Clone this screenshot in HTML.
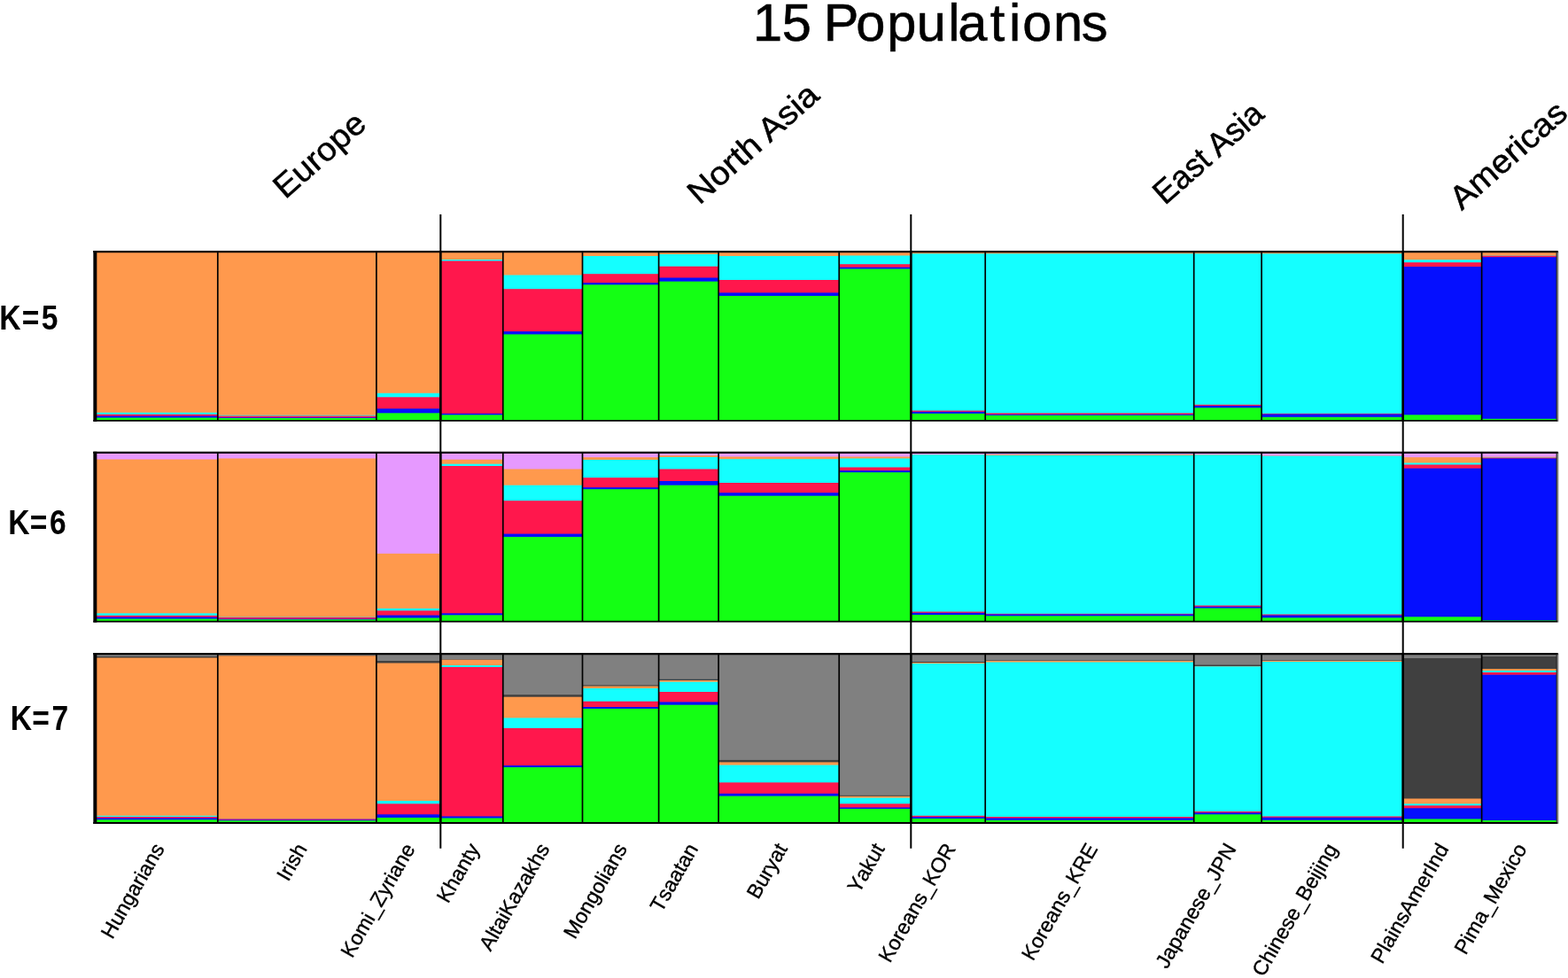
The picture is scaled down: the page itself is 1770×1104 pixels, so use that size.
<!DOCTYPE html>
<html lang="en"><head><meta charset="utf-8"><title>15 Populations</title>
<style>html,body{margin:0;padding:0;background:#fff;}body{width:1770px;height:1104px;overflow:hidden;}svg{display:block;}text{font-family:"Liberation Sans",sans-serif;fill:#000;}.pl text{font-kerning:none;font-feature-settings:"kern" 0,"liga" 0;}</style></head><body>
<svg width="1770" height="1104" viewBox="0 0 1770 1104">
<rect width="1770" height="1104" fill="#fff"/>
<g>
<rect x="107.35" y="284.1" width="138.45" height="190.8" fill="#FF994D"/>
<rect x="107.35" y="465.7" width="138.45" height="9.2" fill="#14FFFF"/>
<rect x="107.35" y="467.7" width="138.45" height="7.2" fill="#FF174C"/>
<rect x="107.35" y="469.5" width="138.45" height="5.4" fill="#050FFF"/>
<rect x="107.35" y="471.5" width="138.45" height="3.4" fill="#14FF14"/>
<rect x="245.8" y="284.1" width="179.1" height="190.8" fill="#FF994D"/>
<rect x="245.8" y="468.7" width="179.1" height="6.2" fill="#14FFFF"/>
<rect x="245.8" y="469.5" width="179.1" height="5.4" fill="#FF174C"/>
<rect x="245.8" y="471.2" width="179.1" height="3.7" fill="#050FFF"/>
<rect x="245.8" y="472" width="179.1" height="2.9" fill="#14FF14"/>
<rect x="424.9" y="284.1" width="72.4" height="190.8" fill="#FF994D"/>
<rect x="424.9" y="443.8" width="72.4" height="31.1" fill="#14FFFF"/>
<rect x="424.9" y="448.3" width="72.4" height="26.6" fill="#FF174C"/>
<rect x="424.9" y="461.3" width="72.4" height="13.6" fill="#050FFF"/>
<rect x="424.9" y="466.3" width="72.4" height="8.6" fill="#14FF14"/>
<rect x="497.3" y="284.1" width="70.5" height="190.8" fill="#FF994D"/>
<rect x="497.3" y="293" width="70.5" height="181.9" fill="#14FFFF"/>
<rect x="497.3" y="294.5" width="70.5" height="180.4" fill="#FF174C"/>
<rect x="497.3" y="466.8" width="70.5" height="8.1" fill="#050FFF"/>
<rect x="497.3" y="468.3" width="70.5" height="6.6" fill="#14FF14"/>
<rect x="567.8" y="284.1" width="89.7" height="190.8" fill="#FF994D"/>
<rect x="567.8" y="310.5" width="89.7" height="164.4" fill="#14FFFF"/>
<rect x="567.8" y="326.2" width="89.7" height="148.7" fill="#FF174C"/>
<rect x="567.8" y="374.1" width="89.7" height="100.8" fill="#050FFF"/>
<rect x="567.8" y="377.4" width="89.7" height="97.5" fill="#14FF14"/>
<rect x="657.5" y="284.1" width="86.1" height="190.8" fill="#FF994D"/>
<rect x="657.5" y="289" width="86.1" height="185.9" fill="#14FFFF"/>
<rect x="657.5" y="309.2" width="86.1" height="165.7" fill="#FF174C"/>
<rect x="657.5" y="319.2" width="86.1" height="155.7" fill="#050FFF"/>
<rect x="657.5" y="321.4" width="86.1" height="153.5" fill="#14FF14"/>
<rect x="743.6" y="284.1" width="67.5" height="190.8" fill="#FF994D"/>
<rect x="743.6" y="287" width="67.5" height="187.9" fill="#14FFFF"/>
<rect x="743.6" y="300.7" width="67.5" height="174.2" fill="#FF174C"/>
<rect x="743.6" y="313.5" width="67.5" height="161.4" fill="#050FFF"/>
<rect x="743.6" y="317.7" width="67.5" height="157.2" fill="#14FF14"/>
<rect x="811.1" y="284.1" width="136.1" height="190.8" fill="#FF994D"/>
<rect x="811.1" y="289" width="136.1" height="185.9" fill="#14FFFF"/>
<rect x="811.1" y="316" width="136.1" height="158.9" fill="#FF174C"/>
<rect x="811.1" y="330.4" width="136.1" height="144.5" fill="#050FFF"/>
<rect x="811.1" y="334" width="136.1" height="140.9" fill="#14FF14"/>
<rect x="947.2" y="284.1" width="81.1" height="190.8" fill="#FF994D"/>
<rect x="947.2" y="288.5" width="81.1" height="186.4" fill="#14FFFF"/>
<rect x="947.2" y="298.2" width="81.1" height="176.7" fill="#FF174C"/>
<rect x="947.2" y="301.7" width="81.1" height="173.2" fill="#050FFF"/>
<rect x="947.2" y="303.5" width="81.1" height="171.4" fill="#14FF14"/>
<rect x="1028.3" y="284.1" width="83.9" height="190.8" fill="#FF994D"/>
<rect x="1028.3" y="286.3" width="83.9" height="188.6" fill="#14FFFF"/>
<rect x="1028.3" y="463.5" width="83.9" height="11.4" fill="#FF174C"/>
<rect x="1028.3" y="464.8" width="83.9" height="10.1" fill="#050FFF"/>
<rect x="1028.3" y="466.8" width="83.9" height="8.1" fill="#14FF14"/>
<rect x="1112.2" y="284.1" width="235.5" height="190.8" fill="#FF994D"/>
<rect x="1112.2" y="286.3" width="235.5" height="188.6" fill="#14FFFF"/>
<rect x="1112.2" y="466.3" width="235.5" height="8.6" fill="#FF174C"/>
<rect x="1112.2" y="467.8" width="235.5" height="7.1" fill="#050FFF"/>
<rect x="1112.2" y="468.8" width="235.5" height="6.1" fill="#14FF14"/>
<rect x="1347.7" y="284.1" width="76.4" height="190.8" fill="#FF994D"/>
<rect x="1347.7" y="286.3" width="76.4" height="188.6" fill="#14FFFF"/>
<rect x="1347.7" y="456.8" width="76.4" height="18.1" fill="#FF174C"/>
<rect x="1347.7" y="458" width="76.4" height="16.9" fill="#050FFF"/>
<rect x="1347.7" y="460.3" width="76.4" height="14.6" fill="#14FF14"/>
<rect x="1424.1" y="284.1" width="159.6" height="190.8" fill="#FF994D"/>
<rect x="1424.1" y="286.3" width="159.6" height="188.6" fill="#14FFFF"/>
<rect x="1424.1" y="466.8" width="159.6" height="8.1" fill="#FF174C"/>
<rect x="1424.1" y="467.5" width="159.6" height="7.4" fill="#050FFF"/>
<rect x="1424.1" y="470.8" width="159.6" height="4.1" fill="#14FF14"/>
<rect x="1583.7" y="284.1" width="88.9" height="190.8" fill="#FF994D"/>
<rect x="1583.7" y="293.2" width="88.9" height="181.7" fill="#14FFFF"/>
<rect x="1583.7" y="296.2" width="88.9" height="178.7" fill="#FF174C"/>
<rect x="1583.7" y="301" width="88.9" height="173.9" fill="#050FFF"/>
<rect x="1583.7" y="468.3" width="88.9" height="6.6" fill="#14FF14"/>
<rect x="1672.6" y="284.1" width="84.4" height="190.8" fill="#FF994D"/>
<rect x="1672.6" y="288.5" width="84.4" height="186.4" fill="#14FFFF"/>
<rect x="1672.6" y="288.7" width="84.4" height="186.2" fill="#FF174C"/>
<rect x="1672.6" y="290.2" width="84.4" height="184.7" fill="#050FFF"/>
<rect x="1672.6" y="472.8" width="84.4" height="2.1" fill="#14FF14"/>
</g>
<g stroke="#000" fill="none">
<line x1="245.8" y1="284.1" x2="245.8" y2="474.9" stroke-width="1.7"/>
<line x1="424.9" y1="284.1" x2="424.9" y2="474.9" stroke-width="1.7"/>
<line x1="497.3" y1="284.1" x2="497.3" y2="474.9" stroke-width="2.5"/>
<line x1="567.8" y1="284.1" x2="567.8" y2="474.9" stroke-width="1.7"/>
<line x1="657.5" y1="284.1" x2="657.5" y2="474.9" stroke-width="1.7"/>
<line x1="743.6" y1="284.1" x2="743.6" y2="474.9" stroke-width="1.7"/>
<line x1="811.1" y1="284.1" x2="811.1" y2="474.9" stroke-width="1.7"/>
<line x1="947.2" y1="284.1" x2="947.2" y2="474.9" stroke-width="1.7"/>
<line x1="1028.3" y1="284.1" x2="1028.3" y2="474.9" stroke-width="2.5"/>
<line x1="1112.2" y1="284.1" x2="1112.2" y2="474.9" stroke-width="1.7"/>
<line x1="1347.7" y1="284.1" x2="1347.7" y2="474.9" stroke-width="1.7"/>
<line x1="1424.1" y1="284.1" x2="1424.1" y2="474.9" stroke-width="1.7"/>
<line x1="1583.7" y1="284.1" x2="1583.7" y2="474.9" stroke-width="2.5"/>
<line x1="1672.6" y1="284.1" x2="1672.6" y2="474.9" stroke-width="1.7"/>
<line x1="1758.6" y1="283.5" x2="1758.6" y2="475.8" stroke-width="1.6" stroke="#8a8a8a"/>
<line x1="105.35" y1="284.1" x2="1758.6" y2="284.1" stroke-width="2.3"/>
<line x1="105.35" y1="474.9" x2="1758.2" y2="474.9" stroke-width="1.9"/>
<line x1="107.35" y1="283" x2="107.35" y2="475.8" stroke-width="4"/>
<line x1="1757.2" y1="284.1" x2="1757.2" y2="474.9" stroke-width="1.2" stroke="#1a1a1a"/>
</g>
<g>
<rect x="107.35" y="510.9" width="138.45" height="190.7" fill="#E699FF"/>
<rect x="107.35" y="518.5" width="138.45" height="183.1" fill="#FF994D"/>
<rect x="107.35" y="692.3" width="138.45" height="9.3" fill="#14FFFF"/>
<rect x="107.35" y="694.8" width="138.45" height="6.8" fill="#FF174C"/>
<rect x="107.35" y="696.5" width="138.45" height="5.1" fill="#050FFF"/>
<rect x="107.35" y="698.5" width="138.45" height="3.1" fill="#14FF14"/>
<rect x="245.8" y="510.9" width="179.1" height="190.7" fill="#E699FF"/>
<rect x="245.8" y="517.5" width="179.1" height="184.1" fill="#FF994D"/>
<rect x="245.8" y="696.5" width="179.1" height="5.1" fill="#14FFFF"/>
<rect x="245.8" y="696.8" width="179.1" height="4.8" fill="#FF174C"/>
<rect x="245.8" y="698.5" width="179.1" height="3.1" fill="#050FFF"/>
<rect x="245.8" y="699.3" width="179.1" height="2.3" fill="#14FF14"/>
<rect x="424.9" y="510.9" width="72.4" height="190.7" fill="#E699FF"/>
<rect x="424.9" y="624.9" width="72.4" height="76.7" fill="#FF994D"/>
<rect x="424.9" y="686.8" width="72.4" height="14.8" fill="#14FFFF"/>
<rect x="424.9" y="689.3" width="72.4" height="12.3" fill="#FF174C"/>
<rect x="424.9" y="694.5" width="72.4" height="7.1" fill="#050FFF"/>
<rect x="424.9" y="697.5" width="72.4" height="4.1" fill="#14FF14"/>
<rect x="497.3" y="510.9" width="70.5" height="190.7" fill="#E699FF"/>
<rect x="497.3" y="518.7" width="70.5" height="182.9" fill="#FF994D"/>
<rect x="497.3" y="523.7" width="70.5" height="177.9" fill="#14FFFF"/>
<rect x="497.3" y="526" width="70.5" height="175.6" fill="#FF174C"/>
<rect x="497.3" y="692.3" width="70.5" height="9.3" fill="#050FFF"/>
<rect x="497.3" y="694.3" width="70.5" height="7.3" fill="#14FF14"/>
<rect x="567.8" y="510.9" width="89.7" height="190.7" fill="#E699FF"/>
<rect x="567.8" y="529.5" width="89.7" height="172.1" fill="#FF994D"/>
<rect x="567.8" y="547.7" width="89.7" height="153.9" fill="#14FFFF"/>
<rect x="567.8" y="565.2" width="89.7" height="136.4" fill="#FF174C"/>
<rect x="567.8" y="602.6" width="89.7" height="99" fill="#050FFF"/>
<rect x="567.8" y="606.1" width="89.7" height="95.5" fill="#14FF14"/>
<rect x="657.5" y="510.9" width="86.1" height="190.7" fill="#E699FF"/>
<rect x="657.5" y="516.2" width="86.1" height="185.4" fill="#FF994D"/>
<rect x="657.5" y="519" width="86.1" height="182.6" fill="#14FFFF"/>
<rect x="657.5" y="539.2" width="86.1" height="162.4" fill="#FF174C"/>
<rect x="657.5" y="550.2" width="86.1" height="151.4" fill="#050FFF"/>
<rect x="657.5" y="552.2" width="86.1" height="149.4" fill="#14FF14"/>
<rect x="743.6" y="510.9" width="67.5" height="190.7" fill="#E699FF"/>
<rect x="743.6" y="514.2" width="67.5" height="187.4" fill="#FF994D"/>
<rect x="743.6" y="516" width="67.5" height="185.6" fill="#14FFFF"/>
<rect x="743.6" y="529.5" width="67.5" height="172.1" fill="#FF174C"/>
<rect x="743.6" y="543" width="67.5" height="158.6" fill="#050FFF"/>
<rect x="743.6" y="547.7" width="67.5" height="153.9" fill="#14FF14"/>
<rect x="811.1" y="510.9" width="136.1" height="190.7" fill="#E699FF"/>
<rect x="811.1" y="515.5" width="136.1" height="186.1" fill="#FF994D"/>
<rect x="811.1" y="518.2" width="136.1" height="183.4" fill="#14FFFF"/>
<rect x="811.1" y="545" width="136.1" height="156.6" fill="#FF174C"/>
<rect x="811.1" y="556.2" width="136.1" height="145.4" fill="#050FFF"/>
<rect x="811.1" y="559.7" width="136.1" height="141.9" fill="#14FF14"/>
<rect x="947.2" y="510.9" width="81.1" height="190.7" fill="#E699FF"/>
<rect x="947.2" y="515.5" width="81.1" height="186.1" fill="#FF994D"/>
<rect x="947.2" y="517.5" width="81.1" height="184.1" fill="#14FFFF"/>
<rect x="947.2" y="527.5" width="81.1" height="174.1" fill="#FF174C"/>
<rect x="947.2" y="531.2" width="81.1" height="170.4" fill="#050FFF"/>
<rect x="947.2" y="533.2" width="81.1" height="168.4" fill="#14FF14"/>
<rect x="1028.3" y="510.9" width="83.9" height="190.7" fill="#E699FF"/>
<rect x="1028.3" y="513" width="83.9" height="188.6" fill="#FF994D"/>
<rect x="1028.3" y="513.3" width="83.9" height="188.3" fill="#14FFFF"/>
<rect x="1028.3" y="690.5" width="83.9" height="11.1" fill="#FF174C"/>
<rect x="1028.3" y="691.8" width="83.9" height="9.8" fill="#050FFF"/>
<rect x="1028.3" y="694" width="83.9" height="7.6" fill="#14FF14"/>
<rect x="1112.2" y="510.9" width="235.5" height="190.7" fill="#E699FF"/>
<rect x="1112.2" y="513" width="235.5" height="188.6" fill="#FF994D"/>
<rect x="1112.2" y="514" width="235.5" height="187.6" fill="#14FFFF"/>
<rect x="1112.2" y="692.8" width="235.5" height="8.8" fill="#FF174C"/>
<rect x="1112.2" y="693.5" width="235.5" height="8.1" fill="#050FFF"/>
<rect x="1112.2" y="695.3" width="235.5" height="6.3" fill="#14FF14"/>
<rect x="1347.7" y="510.9" width="76.4" height="190.7" fill="#E699FF"/>
<rect x="1347.7" y="513" width="76.4" height="188.6" fill="#FF994D"/>
<rect x="1347.7" y="513.5" width="76.4" height="188.1" fill="#14FFFF"/>
<rect x="1347.7" y="683.5" width="76.4" height="18.1" fill="#FF174C"/>
<rect x="1347.7" y="684.8" width="76.4" height="16.8" fill="#050FFF"/>
<rect x="1347.7" y="686.5" width="76.4" height="15.1" fill="#14FF14"/>
<rect x="1424.1" y="510.9" width="159.6" height="190.7" fill="#E699FF"/>
<rect x="1424.1" y="514.5" width="159.6" height="187.1" fill="#FF994D"/>
<rect x="1424.1" y="514.7" width="159.6" height="186.9" fill="#14FFFF"/>
<rect x="1424.1" y="693.5" width="159.6" height="8.1" fill="#FF174C"/>
<rect x="1424.1" y="694.5" width="159.6" height="7.1" fill="#050FFF"/>
<rect x="1424.1" y="697.3" width="159.6" height="4.3" fill="#14FF14"/>
<rect x="1583.7" y="510.9" width="88.9" height="190.7" fill="#E699FF"/>
<rect x="1583.7" y="516.2" width="88.9" height="185.4" fill="#FF994D"/>
<rect x="1583.7" y="522.5" width="88.9" height="179.1" fill="#14FFFF"/>
<rect x="1583.7" y="524.5" width="88.9" height="177.1" fill="#FF174C"/>
<rect x="1583.7" y="528.7" width="88.9" height="172.9" fill="#050FFF"/>
<rect x="1583.7" y="696.3" width="88.9" height="5.3" fill="#14FF14"/>
<rect x="1672.6" y="510.9" width="84.4" height="190.7" fill="#E699FF"/>
<rect x="1672.6" y="515.7" width="84.4" height="185.9" fill="#FF994D"/>
<rect x="1672.6" y="516.5" width="84.4" height="185.1" fill="#14FFFF"/>
<rect x="1672.6" y="516.7" width="84.4" height="184.9" fill="#FF174C"/>
<rect x="1672.6" y="517.5" width="84.4" height="184.1" fill="#050FFF"/>
<rect x="1672.6" y="700.3" width="84.4" height="1.3" fill="#14FF14"/>
</g>
<g stroke="#000" fill="none">
<line x1="245.8" y1="510.9" x2="245.8" y2="701.6" stroke-width="1.7"/>
<line x1="424.9" y1="510.9" x2="424.9" y2="701.6" stroke-width="1.7"/>
<line x1="497.3" y1="510.9" x2="497.3" y2="701.6" stroke-width="2.5"/>
<line x1="567.8" y1="510.9" x2="567.8" y2="701.6" stroke-width="1.7"/>
<line x1="657.5" y1="510.9" x2="657.5" y2="701.6" stroke-width="1.7"/>
<line x1="743.6" y1="510.9" x2="743.6" y2="701.6" stroke-width="1.7"/>
<line x1="811.1" y1="510.9" x2="811.1" y2="701.6" stroke-width="1.7"/>
<line x1="947.2" y1="510.9" x2="947.2" y2="701.6" stroke-width="1.7"/>
<line x1="1028.3" y1="510.9" x2="1028.3" y2="701.6" stroke-width="2.5"/>
<line x1="1112.2" y1="510.9" x2="1112.2" y2="701.6" stroke-width="1.7"/>
<line x1="1347.7" y1="510.9" x2="1347.7" y2="701.6" stroke-width="1.7"/>
<line x1="1424.1" y1="510.9" x2="1424.1" y2="701.6" stroke-width="1.7"/>
<line x1="1583.7" y1="510.9" x2="1583.7" y2="701.6" stroke-width="2.5"/>
<line x1="1672.6" y1="510.9" x2="1672.6" y2="701.6" stroke-width="1.7"/>
<line x1="1758.6" y1="510.3" x2="1758.6" y2="702.5" stroke-width="1.6" stroke="#8a8a8a"/>
<line x1="105.35" y1="510.9" x2="1758.6" y2="510.9" stroke-width="2.3"/>
<line x1="105.35" y1="701.6" x2="1758.2" y2="701.6" stroke-width="1.9"/>
<line x1="107.35" y1="509.8" x2="107.35" y2="702.5" stroke-width="4"/>
<line x1="1757.2" y1="510.9" x2="1757.2" y2="701.6" stroke-width="1.2" stroke="#1a1a1a"/>
</g>
<g>
<rect x="107.35" y="738.1" width="138.45" height="190.9" fill="#808080"/>
<rect x="107.35" y="741" width="138.45" height="188" fill="#404040"/>
<rect x="107.35" y="742.5" width="138.45" height="186.5" fill="#FF994D"/>
<rect x="107.35" y="920.8" width="138.45" height="8.2" fill="#14FFFF"/>
<rect x="107.35" y="922" width="138.45" height="7" fill="#FF174C"/>
<rect x="107.35" y="923.5" width="138.45" height="5.5" fill="#050FFF"/>
<rect x="107.35" y="925.3" width="138.45" height="3.7" fill="#14FF14"/>
<rect x="245.8" y="738.1" width="179.1" height="190.9" fill="#808080"/>
<rect x="245.8" y="740" width="179.1" height="189" fill="#404040"/>
<rect x="245.8" y="740.3" width="179.1" height="188.7" fill="#FF994D"/>
<rect x="245.8" y="924" width="179.1" height="5" fill="#14FFFF"/>
<rect x="245.8" y="924.3" width="179.1" height="4.7" fill="#FF174C"/>
<rect x="245.8" y="925.5" width="179.1" height="3.5" fill="#050FFF"/>
<rect x="245.8" y="926.3" width="179.1" height="2.7" fill="#14FF14"/>
<rect x="424.9" y="738.1" width="72.4" height="190.9" fill="#808080"/>
<rect x="424.9" y="746" width="72.4" height="183" fill="#404040"/>
<rect x="424.9" y="748.5" width="72.4" height="180.5" fill="#FF994D"/>
<rect x="424.9" y="904" width="72.4" height="25" fill="#14FFFF"/>
<rect x="424.9" y="907.3" width="72.4" height="21.7" fill="#FF174C"/>
<rect x="424.9" y="919.3" width="72.4" height="9.7" fill="#050FFF"/>
<rect x="424.9" y="923" width="72.4" height="6" fill="#14FF14"/>
<rect x="497.3" y="738.1" width="70.5" height="190.9" fill="#808080"/>
<rect x="497.3" y="744.5" width="70.5" height="184.5" fill="#404040"/>
<rect x="497.3" y="744.7" width="70.5" height="184.3" fill="#FF994D"/>
<rect x="497.3" y="751" width="70.5" height="178" fill="#14FFFF"/>
<rect x="497.3" y="753" width="70.5" height="176" fill="#FF174C"/>
<rect x="497.3" y="921.5" width="70.5" height="7.5" fill="#050FFF"/>
<rect x="497.3" y="923.5" width="70.5" height="5.5" fill="#14FF14"/>
<rect x="567.8" y="738.1" width="89.7" height="190.9" fill="#808080"/>
<rect x="567.8" y="784.2" width="89.7" height="144.8" fill="#404040"/>
<rect x="567.8" y="786.7" width="89.7" height="142.3" fill="#FF994D"/>
<rect x="567.8" y="810.4" width="89.7" height="118.6" fill="#14FFFF"/>
<rect x="567.8" y="821.9" width="89.7" height="107.1" fill="#FF174C"/>
<rect x="567.8" y="864.1" width="89.7" height="64.9" fill="#050FFF"/>
<rect x="567.8" y="866.1" width="89.7" height="62.9" fill="#14FF14"/>
<rect x="657.5" y="738.1" width="86.1" height="190.9" fill="#808080"/>
<rect x="657.5" y="773.4" width="86.1" height="155.6" fill="#404040"/>
<rect x="657.5" y="774.5" width="86.1" height="154.5" fill="#FF994D"/>
<rect x="657.5" y="777" width="86.1" height="152" fill="#14FFFF"/>
<rect x="657.5" y="791.7" width="86.1" height="137.3" fill="#FF174C"/>
<rect x="657.5" y="798" width="86.1" height="131" fill="#050FFF"/>
<rect x="657.5" y="800" width="86.1" height="129" fill="#14FF14"/>
<rect x="743.6" y="738.1" width="67.5" height="190.9" fill="#808080"/>
<rect x="743.6" y="766.7" width="67.5" height="162.3" fill="#404040"/>
<rect x="743.6" y="768" width="67.5" height="161" fill="#FF994D"/>
<rect x="743.6" y="769.7" width="67.5" height="159.3" fill="#14FFFF"/>
<rect x="743.6" y="781" width="67.5" height="148" fill="#FF174C"/>
<rect x="743.6" y="792.4" width="67.5" height="136.6" fill="#050FFF"/>
<rect x="743.6" y="795.7" width="67.5" height="133.3" fill="#14FF14"/>
<rect x="811.1" y="738.1" width="136.1" height="190.9" fill="#808080"/>
<rect x="811.1" y="857.9" width="136.1" height="71.1" fill="#404040"/>
<rect x="811.1" y="860.4" width="136.1" height="68.6" fill="#FF994D"/>
<rect x="811.1" y="863.6" width="136.1" height="65.4" fill="#14FFFF"/>
<rect x="811.1" y="883.3" width="136.1" height="45.7" fill="#FF174C"/>
<rect x="811.1" y="895.8" width="136.1" height="33.2" fill="#050FFF"/>
<rect x="811.1" y="898.6" width="136.1" height="30.4" fill="#14FF14"/>
<rect x="947.2" y="738.1" width="81.1" height="190.9" fill="#808080"/>
<rect x="947.2" y="897.8" width="81.1" height="31.2" fill="#404040"/>
<rect x="947.2" y="898.8" width="81.1" height="30.2" fill="#FF994D"/>
<rect x="947.2" y="900.6" width="81.1" height="28.4" fill="#14FFFF"/>
<rect x="947.2" y="907.3" width="81.1" height="21.7" fill="#FF174C"/>
<rect x="947.2" y="911.5" width="81.1" height="17.5" fill="#050FFF"/>
<rect x="947.2" y="913" width="81.1" height="16" fill="#14FF14"/>
<rect x="1028.3" y="738.1" width="83.9" height="190.9" fill="#808080"/>
<rect x="1028.3" y="747" width="83.9" height="182" fill="#404040"/>
<rect x="1028.3" y="748" width="83.9" height="181" fill="#FF994D"/>
<rect x="1028.3" y="749" width="83.9" height="180" fill="#14FFFF"/>
<rect x="1028.3" y="920.8" width="83.9" height="8.2" fill="#FF174C"/>
<rect x="1028.3" y="922.3" width="83.9" height="6.7" fill="#050FFF"/>
<rect x="1028.3" y="924" width="83.9" height="5" fill="#14FF14"/>
<rect x="1112.2" y="738.1" width="235.5" height="190.9" fill="#808080"/>
<rect x="1112.2" y="745.5" width="235.5" height="183.5" fill="#404040"/>
<rect x="1112.2" y="746" width="235.5" height="183" fill="#FF994D"/>
<rect x="1112.2" y="747.5" width="235.5" height="181.5" fill="#14FFFF"/>
<rect x="1112.2" y="922" width="235.5" height="7" fill="#FF174C"/>
<rect x="1112.2" y="923.5" width="235.5" height="5.5" fill="#050FFF"/>
<rect x="1112.2" y="925.8" width="235.5" height="3.2" fill="#14FF14"/>
<rect x="1347.7" y="738.1" width="76.4" height="190.9" fill="#808080"/>
<rect x="1347.7" y="750.5" width="76.4" height="178.5" fill="#404040"/>
<rect x="1347.7" y="752" width="76.4" height="177" fill="#FF994D"/>
<rect x="1347.7" y="752.3" width="76.4" height="176.7" fill="#14FFFF"/>
<rect x="1347.7" y="916" width="76.4" height="13" fill="#FF174C"/>
<rect x="1347.7" y="917.3" width="76.4" height="11.7" fill="#050FFF"/>
<rect x="1347.7" y="919.3" width="76.4" height="9.7" fill="#14FF14"/>
<rect x="1424.1" y="738.1" width="159.6" height="190.9" fill="#808080"/>
<rect x="1424.1" y="745.5" width="159.6" height="183.5" fill="#404040"/>
<rect x="1424.1" y="746" width="159.6" height="183" fill="#FF994D"/>
<rect x="1424.1" y="747" width="159.6" height="182" fill="#14FFFF"/>
<rect x="1424.1" y="921.5" width="159.6" height="7.5" fill="#FF174C"/>
<rect x="1424.1" y="922.8" width="159.6" height="6.2" fill="#050FFF"/>
<rect x="1424.1" y="925.8" width="159.6" height="3.2" fill="#14FF14"/>
<rect x="1583.7" y="738.1" width="88.9" height="190.9" fill="#808080"/>
<rect x="1583.7" y="743" width="88.9" height="186" fill="#404040"/>
<rect x="1583.7" y="901.5" width="88.9" height="27.5" fill="#FF994D"/>
<rect x="1583.7" y="907.3" width="88.9" height="21.7" fill="#14FFFF"/>
<rect x="1583.7" y="909.3" width="88.9" height="19.7" fill="#FF174C"/>
<rect x="1583.7" y="912.3" width="88.9" height="16.7" fill="#050FFF"/>
<rect x="1583.7" y="924.5" width="88.9" height="4.5" fill="#14FF14"/>
<rect x="1672.6" y="738.1" width="84.4" height="190.9" fill="#808080"/>
<rect x="1672.6" y="741" width="84.4" height="188" fill="#404040"/>
<rect x="1672.6" y="755" width="84.4" height="174" fill="#FF994D"/>
<rect x="1672.6" y="757" width="84.4" height="172" fill="#14FFFF"/>
<rect x="1672.6" y="759" width="84.4" height="170" fill="#FF174C"/>
<rect x="1672.6" y="761.7" width="84.4" height="167.3" fill="#050FFF"/>
<rect x="1672.6" y="926" width="84.4" height="3" fill="#14FF14"/>
</g>
<g stroke="#000" fill="none">
<line x1="245.8" y1="738.1" x2="245.8" y2="929" stroke-width="1.7"/>
<line x1="424.9" y1="738.1" x2="424.9" y2="929" stroke-width="1.7"/>
<line x1="497.3" y1="738.1" x2="497.3" y2="929" stroke-width="2.5"/>
<line x1="567.8" y1="738.1" x2="567.8" y2="929" stroke-width="1.7"/>
<line x1="657.5" y1="738.1" x2="657.5" y2="929" stroke-width="1.7"/>
<line x1="743.6" y1="738.1" x2="743.6" y2="929" stroke-width="1.7"/>
<line x1="811.1" y1="738.1" x2="811.1" y2="929" stroke-width="1.7"/>
<line x1="947.2" y1="738.1" x2="947.2" y2="929" stroke-width="1.7"/>
<line x1="1028.3" y1="738.1" x2="1028.3" y2="929" stroke-width="2.5"/>
<line x1="1112.2" y1="738.1" x2="1112.2" y2="929" stroke-width="1.7"/>
<line x1="1347.7" y1="738.1" x2="1347.7" y2="929" stroke-width="1.7"/>
<line x1="1424.1" y1="738.1" x2="1424.1" y2="929" stroke-width="1.7"/>
<line x1="1583.7" y1="738.1" x2="1583.7" y2="929" stroke-width="2.5"/>
<line x1="1672.6" y1="738.1" x2="1672.6" y2="929" stroke-width="1.7"/>
<line x1="1758.6" y1="737.5" x2="1758.6" y2="929.9" stroke-width="1.6" stroke="#8a8a8a"/>
<line x1="105.35" y1="738.1" x2="1758.6" y2="738.1" stroke-width="2.3"/>
<line x1="105.35" y1="929" x2="1758.2" y2="929" stroke-width="1.9"/>
<line x1="107.35" y1="737" x2="107.35" y2="929.9" stroke-width="4"/>
<line x1="1757.2" y1="738.1" x2="1757.2" y2="929" stroke-width="1.2" stroke="#1a1a1a"/>
</g>
<line x1="497.3" y1="242.1" x2="497.3" y2="957.7" stroke="#000" stroke-width="2"/>
<line x1="1028.3" y1="242.1" x2="1028.3" y2="957.7" stroke="#000" stroke-width="2"/>
<line x1="1583.7" y1="242.1" x2="1583.7" y2="957.7" stroke="#000" stroke-width="2"/>
<text x="849.89 882.76 915.85 929.84 966.35 1001.24 1034.7 1070.33 1081.19 1117.85 1139.01 1154.25 1189.01 1220.82" y="46.4" font-size="59.5" stroke="#000" stroke-width="0.6">15 Populations</text>
<text transform="translate(0 372.1) scale(0.88 1)" x="-0.8 28.04 53.13" y="0" font-size="38.2" font-weight="bold">K=5</text>
<text transform="translate(0 603) scale(0.88 1)" x="10.45 38.27 63.69" y="0" font-size="38.2" font-weight="bold">K=6</text>
<text transform="translate(0 824.4) scale(0.88 1)" x="13.29 41.11 66.38" y="0" font-size="38.2" font-weight="bold">K=7</text>
<text transform="translate(322 225.6) rotate(-41.5)" font-size="37" textLength="125" lengthAdjust="spacingAndGlyphs" stroke="#000" stroke-width="0.5">Europe</text>
<text transform="translate(789.5 232) rotate(-41.5)" font-size="37" textLength="183.5" lengthAdjust="spacingAndGlyphs" stroke="#000" stroke-width="0.5">North Asia</text>
<text transform="translate(1315 232.3) rotate(-41.5)" font-size="37" textLength="152" lengthAdjust="spacingAndGlyphs" stroke="#000" stroke-width="0.5">East Asia</text>
<text transform="translate(1650 238.3) rotate(-41.5)" font-size="37" textLength="162.5" lengthAdjust="spacingAndGlyphs" stroke="#000" stroke-width="0.5">Americas</text>
<g class="pl">
<text transform="translate(186.3 958) rotate(-60)" font-size="23.3" text-anchor="end" stroke="#000" stroke-width="0.35">Hungarians</text>
<text transform="translate(347.3 958) rotate(-60)" font-size="23.3" text-anchor="end" stroke="#000" stroke-width="0.35">Irish</text>
<text transform="translate(469.3 958) rotate(-60)" font-size="23.3" text-anchor="end" stroke="#000" stroke-width="0.35">Komi_Zyriane</text>
<text transform="translate(542.1 958) rotate(-60)" font-size="23.3" text-anchor="end" stroke="#000" stroke-width="0.35">Khanty</text>
<text transform="translate(621 958) rotate(-60)" font-size="23.3" text-anchor="end" stroke="#000" stroke-width="0.35">AltaiKazakhs</text>
<text transform="translate(708.7 958) rotate(-60)" font-size="23.3" text-anchor="end" stroke="#000" stroke-width="0.35">Mongolians</text>
<text transform="translate(788.8 958) rotate(-60)" font-size="23.3" text-anchor="end" stroke="#000" stroke-width="0.35">Tsaatan</text>
<text transform="translate(889.5 958) rotate(-60)" font-size="23.3" text-anchor="end" stroke="#000" stroke-width="0.35">Buryat</text>
<text transform="translate(999.2 958) rotate(-60)" font-size="23.3" text-anchor="end" stroke="#000" stroke-width="0.35">Yakut</text>
<text transform="translate(1079.5 958) rotate(-60)" font-size="23.3" text-anchor="end" stroke="#000" stroke-width="0.35">Koreans_KOR</text>
<text transform="translate(1239.8 958) rotate(-60)" font-size="23.3" text-anchor="end" stroke="#000" stroke-width="0.35">Koreans_KRE</text>
<text transform="translate(1396.2 958) rotate(-60)" font-size="23.3" text-anchor="end" stroke="#000" stroke-width="0.35">Japanese_JPN</text>
<text transform="translate(1510.5 958) rotate(-60)" font-size="23.3" text-anchor="end" stroke="#000" stroke-width="0.35">Chinese_Beijing</text>
<text transform="translate(1636 958) rotate(-60)" font-size="23.3" text-anchor="end" stroke="#000" stroke-width="0.35">PlainsAmerInd</text>
<text transform="translate(1724.3 958) rotate(-60)" font-size="23.3" text-anchor="end" stroke="#000" stroke-width="0.35">Pima_Mexico</text>
</g>
</svg></body></html>
